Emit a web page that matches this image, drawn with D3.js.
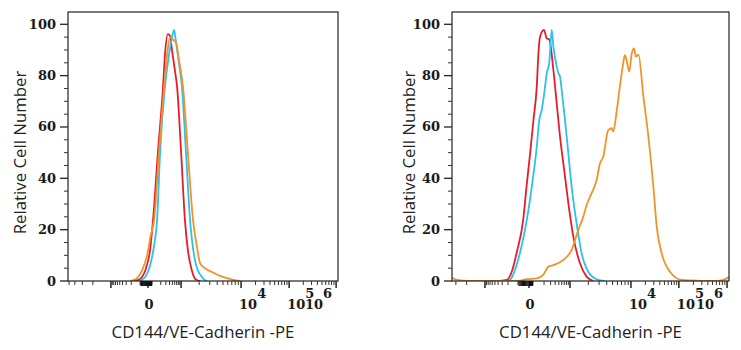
<!DOCTYPE html>
<html>
<head>
<meta charset="utf-8">
<script src="https://cdn.jsdelivr.net/npm/d3@7"></script>
<style>
  body { margin: 0; background: #fff; }
  svg { display: block; }
  .tick-label { font-family: "DejaVu Serif", serif; font-weight: bold; font-size: 13px; fill: #1a1a1a; }
  .axis-title { font-family: "Open Sans", "Noto Sans", sans-serif; font-size: 16.8px; fill: #222; }
</style>
</head>
<body>
<svg id="chart" width="741" height="350"></svg>
<script>
// ---------- Data: [channel (0..1000 along the axis), relative count] ----------
const leftRed = [[241,0],[255,0.3],[267,0.8],[289,5],[304,12],[315,23.8],[333,50],[352,75.6],[359,88],
  [370,96.2],[378,95.5],[385,90],[396,82],[404,75.6],[419,50],[433,23.8],[444,12],[459,4],[470,1],[481,0.2],[490,0]];
const leftCyan = [[263,0],[274,0.5],[289,2],[304,6],[319,14],[330,23.8],[341,50],[359,75.6],[374,88],[385,95],
  [393,97.8],[400,93],[411,85],[422,75.6],[437,50],[452,23.8],[467,10],[478,5],[493,2],[507,0.3],[515,0]];
const leftOrange = [[230,0],[241,0.3],[255,1],[274,4],[293,10],[307,18],[319,23.8],[337,50],[356,75.6],[367,88],
  [378,95],[389,94],[400,93],[411,86],[426,75.6],[444,50],[463,23.8],[478,13],[489,7],[507,5],[533,3.5],
  [563,2],[593,1],[622,0.2],[637,0]];

const rightRed = [[173,0],[198,0.4],[217,4],[233,10.8],[257,23.8],[269,36.7],[282,49.7],[294,62.7],[306,75.7],
  [312,88.7],[318,95.2],[332,97.8],[342,94.5],[351,94.1],[366,82.2],[378,69.2],[390,56.2],[405,43.2],[420,30.3],
  [438,17.3],[462,6.9],[486,1.7],[510,0]];
const rightCyan = [[199,0],[209,0.4],[245,10.8],[270,23.8],[288,36.7],[306,52.3],[315,62.7],[324,66.6],[336,75.7],
  [342,80.9],[351,84.8],[360,97.8],[366,91.3],[378,83.5],[384,80.9],[390,79.6],[396,74.4],[408,62.7],[420,49.7],
  [432,36.7],[448,23.8],[468,10.8],[492,3.6],[522,0.7],[552,0]];
const rightOrange = [[0,1.3],[12,0.6],[22,0.4],[40,0.1],[80,0],[234,0],[270,0.7],[306,1.0],[330,2.5],[348,5.6],
  [366,6.2],[402,8.2],[432,12.1],[456,19.9],[474,25],[486,29.6],[504,34.2],[522,39.3],[534,45.8],[546,48.4],
  [564,58.8],[577,59.5],[582,58.2],[595,66.6],[606,75.7],[618,84.8],[624,88],[630,86.1],[640,81.6],[649,88.7],
  [657,90.6],[664,87.4],[673,88.2],[691,71.8],[709,56.2],[727,36.7],[739,21.2],[757,10.8],[787,3.6],[829,0.4],
  [870,0.2],[906,0],[956,0],[979,0.4],[1000,1.5]];

// ---------- Axes ----------
const yTicks = [0, 20, 40, 60, 80, 100];
const yMinorTicks = d3.range(5, 100, 5).filter(v => v % 20);
// biexponential axis: decade coordinate -> channel, per panel
const axisDecades = [-4, -3, -2, 0, 2, 3, 4, 5, 6];
const leftAxisChannels  = [-63, 159, 267, 296, 311, 419, 641, 819, 993];
const rightAxisChannels = [-101, 119, 238, 278, 292, 426, 646, 819, 993];
const xMajorValues = [-1e3, 0, 1e3, 1e4, 1e5, 1e6];
const xTickLabels = [
  { v: 0,   base: "0" },
  { v: 1e4, base: "10", exp: "4" },
  { v: 1e5, base: "10", exp: "5" },
  { v: 1e6, base: "10", exp: "6", end: true }
];
const xTitle = "CD144/VE-Cadherin -PE";
const yTitle = "Relative Cell Number";

const COLORS = { red: "#e61e28", cyan: "#2fc0ec", orange: "#f39228" };

// value -> decade coordinate (linear around zero)
const toDecade = v => Math.abs(v) <= 100 ? v / 50 : Math.sign(v) * Math.log10(Math.abs(v));

// minor tick values
const xMinorValues = [];
for (let e = 2; e <= 5; e++) for (let m = 2; m <= 9; m++) {
  xMinorValues.push(m * 10 ** e);
  if (e <= 3) xMinorValues.push(-m * 10 ** e);
}
xMinorValues.push(100, -100);
const xDenseValues = d3.range(-90, 100, 10).filter(v => v !== 0);

const svg = d3.select("#chart");

const panels = [
  { left: 68,  right: 338, titleX: 19,  channels: leftAxisChannels,
    series: [["red", leftRed], ["cyan", leftCyan], ["orange", leftOrange]] },
  { left: 452, right: 729, titleX: 408, channels: rightAxisChannels,
    series: [["red", rightRed], ["cyan", rightCyan], ["orange", rightOrange]] }
];

const TOP = 12, BOTTOM = 281;

panels.forEach(p => {
  const g = svg.append("g");
  const x = d3.scaleLinear().domain([0, 1000]).range([p.left, p.right]);
  const y = d3.scaleLinear().domain([0, 100]).range([BOTTOM, 24.3]);
  const chan = d3.scaleLinear().domain(axisDecades).range(p.channels);
  const xv = v => x(chan(toDecade(v)));
  const inside = v => xv(v) >= p.left - 0.5 && xv(v) <= p.right + 0.5;

  // curves (clipped to frame)
  const clipId = "clip" + p.left;
  svg.append("clipPath").attr("id", clipId).append("rect")
    .attr("x", p.left).attr("y", TOP).attr("width", p.right - p.left).attr("height", BOTTOM - TOP);

  const line = d3.line().x(d => x(d[0])).y(d => y(d[1])).curve(d3.curveMonotoneX);
  g.append("g").attr("clip-path", `url(#${clipId})`)
    .selectAll("path").data(p.series).join("path")
    .attr("d", d => line(d[1]))
    .attr("fill", "none")
    .attr("stroke", d => COLORS[d[0]])
    .attr("stroke-width", 1.8)
    .attr("stroke-linejoin", "round");

  // frame
  g.append("rect")
    .attr("x", p.left).attr("y", TOP)
    .attr("width", p.right - p.left).attr("height", BOTTOM - TOP)
    .attr("fill", "none").attr("stroke", "#222").attr("stroke-width", 1.2);

  // y ticks
  g.selectAll("line.ymaj").data(yTicks).join("line").attr("class", "ymaj")
    .attr("x1", p.left - 8).attr("x2", p.left)
    .attr("y1", d => y(d)).attr("y2", d => y(d))
    .attr("stroke", "#222").attr("stroke-width", 1.3);
  g.selectAll("line.ymin").data(yMinorTicks).join("line").attr("class", "ymin")
    .attr("x1", p.left - 4).attr("x2", p.left)
    .attr("y1", d => y(d)).attr("y2", d => y(d))
    .attr("stroke", "#333").attr("stroke-width", 1);
  g.selectAll("text.ylab").data(yTicks).join("text").attr("class", "tick-label ylab")
    .attr("x", p.left - 12).attr("y", d => y(d))
    .attr("text-anchor", "end").attr("dominant-baseline", "central")
    .text(d => d);

  // x ticks
  g.selectAll("line.xmaj").data(xMajorValues.filter(inside)).join("line").attr("class", "xmaj")
    .attr("x1", d => xv(d)).attr("x2", d => xv(d))
    .attr("y1", BOTTOM).attr("y2", BOTTOM + 7)
    .attr("stroke", "#222").attr("stroke-width", 1.5);
  g.selectAll("line.xmin").data(xMinorValues.filter(inside)).join("line").attr("class", "xmin")
    .attr("x1", d => xv(d)).attr("x2", d => xv(d))
    .attr("y1", BOTTOM).attr("y2", BOTTOM + 4)
    .attr("stroke", "#333").attr("stroke-width", 1);
  g.selectAll("line.xdense").data(xDenseValues).join("line").attr("class", "xdense")
    .attr("x1", d => xv(d)).attr("x2", d => xv(d))
    .attr("y1", BOTTOM).attr("y2", BOTTOM + 5)
    .attr("stroke", "#111").attr("stroke-width", 1.2);

  const lab = g.selectAll("text.xlab").data(xTickLabels).join("text").attr("class", "tick-label xlab")
    .attr("x", d => d.exp ? (d.end ? xv(d.v) - 4 : xv(d.v) - 2) : xv(d.v) + 1)
    .attr("y", 309)
    .attr("text-anchor", d => d.exp ? (d.end ? "end" : "start") : "middle");
  lab.append("tspan").text(d => d.base);
  lab.filter(d => d.exp).append("tspan").attr("dy", -11).text(d => d.exp);

  // titles
  g.append("text").attr("class", "axis-title")
    .attr("x", (p.left + p.right) / 2).attr("y", 338)
    .attr("text-anchor", "middle").text(xTitle);
  g.append("text").attr("class", "axis-title")
    .attr("transform", `translate(${p.titleX},${(TOP + BOTTOM) / 2 + 6}) rotate(-90)`)
    .attr("text-anchor", "middle").attr("dominant-baseline", "central").text(yTitle);
});
</script>
</body>
</html>
